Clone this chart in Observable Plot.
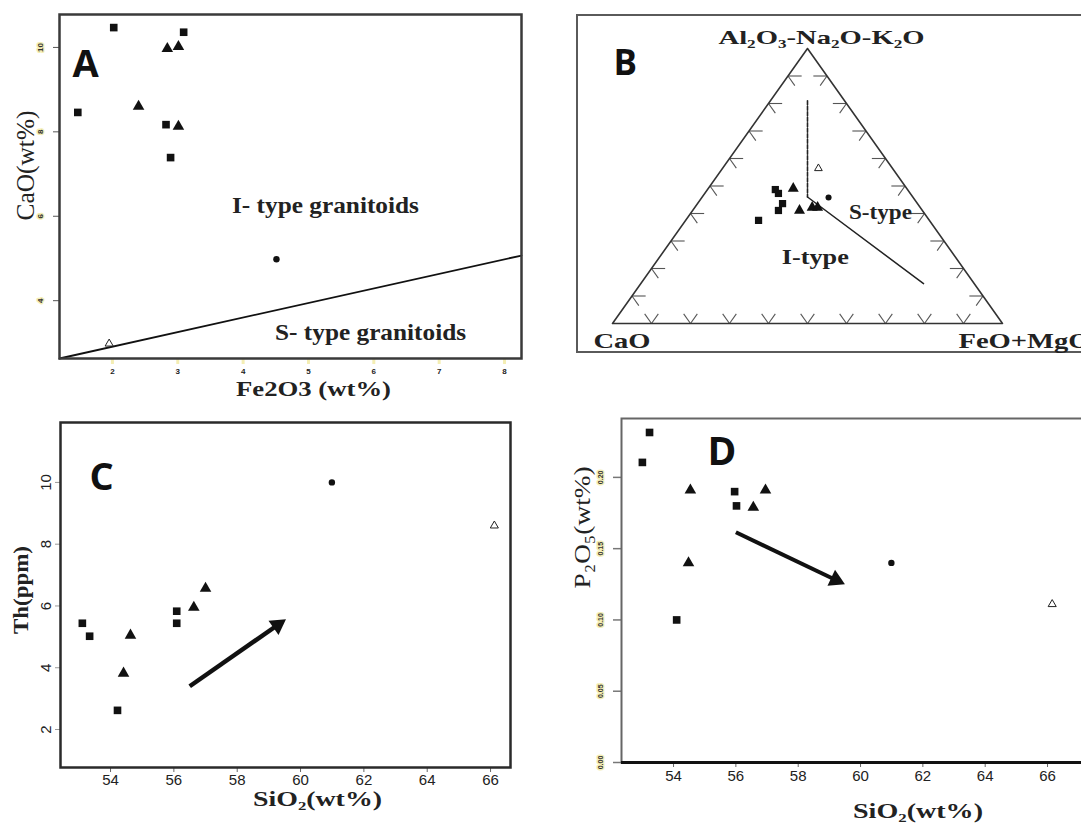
<!DOCTYPE html>
<html><head><meta charset="utf-8">
<script src="https://cdn.jsdelivr.net/npm/d3@7"></script>
<script src="https://cdn.jsdelivr.net/npm/@observablehq/plot@0.6"></script>
<style>
html,body{margin:0;padding:0;background:#fff;width:1081px;height:828px;overflow:hidden;}
#wrap{position:relative;width:1081px;height:828px;overflow:hidden;background:#fff;}
.panel{position:absolute;}
.panel svg{display:block;overflow:visible;max-width:none !important;}
#frameB{position:absolute;left:576px;top:14px;width:620px;height:339px;border:2px solid #5a5a5a;box-sizing:border-box;}
</style></head><body><div id="wrap">
<div id="frameB"></div>
<div id="pA" class="panel" style="left:0;top:0;width:530px"></div>
<div id="pB" class="panel" style="left:576px;top:14px;width:520px"></div>
<div id="pC" class="panel" style="left:0;top:400px;width:530px"></div>
<div id="pD" class="panel" style="left:540px;top:400px;width:560px"></div>
</div>
<script>
const SERIF = "Liberation Serif, Times New Roman, serif";
const SANS = "Liberation Sans, Arial, sans-serif";
const LETTER = "Open Sans, Liberation Sans, sans-serif";

// ---------- Panel A : CaO vs Fe2O3 ----------
const aFe2O3 = [2.02, 3.09, 1.47, 2.82, 2.89, 2.84, 3.01, 2.40, 3.01, 4.51, 1.95];
const aCaO   = [10.47, 10.36, 8.46, 8.17, 7.39, 9.97, 10.02, 8.60, 8.13, 4.98, 2.98];
const aGroup = ["G1","G1","G1","G1","G1","G2","G2","G2","G2","G3","G4"];
const aLineFe2O3 = [1.19, 8.26];
const aLineCaO = [2.63, 5.07];
const aXTicks = [2, 3, 4, 5, 6, 7, 8];
const aYTicks = [4, 6, 8, 10];
const aRegionLabel = ["I- type granitoids", "S- type granitoids"];
const aRegionFe2O3 = [5.26, 5.95];
const aRegionCaO = [6.26, 3.25];

// ---------- Panel B : ternary ----------
const bAl  = [48.7, 47.3, 43.6, 41.1, 37.5, 49.1, 41.1, 42.2, 42.2, 45.8, 56.4];
const bCa  = [33.9, 33.8, 34.6, 36.9, 43.8, 29.1, 31.5, 27.7, 26.3, 21.7, 19.0];
const bFM  = [17.4, 18.9, 21.8, 22.0, 18.7, 21.8, 27.4, 30.1, 31.5, 32.5, 24.6];
const bGroup = ["G1","G1","G1","G1","G1","G2","G2","G2","G2","G3","G4"];
const bVertexAl = [0, 0, 100, 0];
const bVertexCa = [100, 0, 0, 100];
const bVertexFM = [0, 100, 0, 0];
const bDashAl = [81, 46], bDashCa = [9.5, 27], bDashFM = [9.5, 27];
const bLineAl = [46, 14.5], bLineCa = [27, 13], bLineFM = [27, 72.5];
const bTickValues = [10, 20, 30, 40, 50, 60, 70, 80, 90];
const bApexLabel = "Al\u2082O\u2083-Na\u2082O-K\u2082O";
const bLeftLabel = "CaO";
const bRightLabel = "FeO+MgO";
const bRegionLabel = ["S-type", "I-type"];
const bRegionAl = [40.4, 24];
const bRegionCa = [11.1, 36];
const bRegionFM = [48.5, 40];

// ---------- Panel C : Th vs SiO2 ----------
const cSiO2 = [53.11, 53.34, 54.22, 56.09, 56.09, 54.63, 54.41, 56.63, 57.0, 60.99, 66.12];
const cTh   = [5.44, 5.02, 2.62, 5.83, 5.44, 5.05, 3.82, 5.95, 6.57, 10.0, 8.6];
const cGroup = ["G1","G1","G1","G1","G1","G2","G2","G2","G2","G3","G4"];
const cArrowSiO2 = [56.5, 59.54];
const cArrowTh = [3.4, 5.57];
const cXTicks = [54, 56, 58, 60, 62, 64, 66];
const cYTicks = [2, 4, 6, 8, 10];

// ---------- Panel D : P2O5 vs SiO2 ----------
const dSiO2 = [53.23, 53.0, 54.1, 55.96, 56.02, 54.54, 54.48, 56.56, 56.95, 60.99, 66.15];
const dP2O5 = [0.2315, 0.2105, 0.100, 0.190, 0.180, 0.191, 0.140, 0.179, 0.191, 0.140, 0.111];
const dGroup = ["G1","G1","G1","G1","G1","G2","G2","G2","G2","G3","G4"];
const dArrowSiO2 = [56.0, 59.5];
const dArrowP2O5 = [0.1615, 0.125];
const dXTicks = [54, 56, 58, 60, 62, 64, 66];
const dYTicks = [0.00, 0.05, 0.10, 0.15, 0.20];

// ---------- helpers ----------
function rowsOf(xs, ys, gs) { return xs.map((x, i) => ({x, y: ys[i], g: gs[i]})); }
function dotMarks(rows, s = 1) {
  return [
    Plot.dot(rows.filter(d => d.g === "G1"), {x: "x", y: "y", symbol: "square", r: 4.3 * s, fill: "#111"}),
    Plot.dot(rows.filter(d => d.g === "G2"), {x: "x", y: "y", symbol: "triangle", r: 4.3 * s, fill: "#111"}),
    Plot.dot(rows.filter(d => d.g === "G3"), {x: "x", y: "y", symbol: "circle", r: 3.2 * s, fill: "#111"}),
    Plot.dot(rows.filter(d => d.g === "G4"), {x: "x", y: "y", symbol: "triangle", r: 3 * s, fill: "#fff", stroke: "#222", strokeWidth: 1})
  ];
}
// arrow: thick shaft + filled triangular head, oriented with the plot's own scales
function arrowMarks(xs, ys, xDomain, yDomain, xRange, yRange, sw, r) {
  const sx = Plot.scale({x: {domain: xDomain, range: xRange}});
  const sy = Plot.scale({y: {domain: yDomain, range: yRange}});
  const p1 = [sx.apply(xs[0]), sy.apply(ys[0])], p2 = [sx.apply(xs[1]), sy.apply(ys[1])];
  const len = Math.hypot(p2[0] - p1[0], p2[1] - p1[1]);
  const ux = (p2[0] - p1[0]) / len, uy = (p2[1] - p1[1]) / len;
  const k = Math.sqrt(Math.PI * r * r / (3 * Math.sqrt(3)));   // centroid-to-base distance of d3 triangle
  const shaftEnd = {x: sx.invert(p2[0] - ux * 2 * k), y: sy.invert(p2[1] - uy * 2 * k)};
  const shaft = [{x1: xs[0], y1: ys[0], x2: shaftEnd.x, y2: shaftEnd.y}];
  const head = [{x: xs[1], y: ys[1]}];
  const angle = Math.atan2(ux, -uy) * 180 / Math.PI;
  return [
    Plot.link(shaft, {x1: "x1", y1: "y1", x2: "x2", y2: "y2", stroke: "#111", strokeWidth: sw}),
    Plot.dot(head, {x: "x", y: "y", symbol: "triangle", r, fill: "#111", rotate: angle, dx: -ux * 2 * k, dy: -uy * 2 * k})
  ];
}
function stretch(svg, lengths) {
  svg.querySelectorAll("text").forEach(t => {
    const L = lengths[t.textContent];
    if (L) { t.setAttribute("textLength", L); t.setAttribute("lengthAdjust", "spacingAndGlyphs"); }
  });
}
const tern = (al, ca, fm) => { const s = al + ca + fm; return {x: (fm + al / 2) / s, y: al / s}; };
const halo = {stroke: "#f4eeb4", strokeWidth: 3, paintOrder: "stroke"};

// ---------- Panel A ----------
{
  const rows = rowsOf(aFe2O3, aCaO, aGroup);
  const line = aLineFe2O3.map((x, i) => ({x, y: aLineCaO[i]}));
  const regions = aRegionLabel.map((t, i) => ({t, x: aRegionFe2O3[i], y: aRegionCaO[i]}));
  const svg = Plot.plot({
    width: 530, height: 400, marginLeft: 59, marginTop: 14, marginRight: 9, marginBottom: 42,
    x: {domain: [1.19, 8.26]}, y: {domain: [2.63, 10.78]},
    style: {background: "transparent", color: "#222", fontFamily: SANS, maxWidth: "none"},
    marks: [
      Plot.axisX({ticks: aXTicks, tickSize: 6, tickPadding: 4, fontSize: 8, fontWeight: "bold", label: null, stroke: "#333", strokeWidth: 1.5, tickFormat: d => String(d), ...halo}),
      Plot.axisY({ticks: aYTicks, tickSize: 6, tickFormat: () => "", label: null, stroke: "#555"}),
      Plot.text(aYTicks, {y: d => d, text: d => String(d), frameAnchor: "left", dx: -19, rotate: -90, textAnchor: "middle", fontSize: 8, fontWeight: "bold", fill: "#333", ...halo}),
      Plot.line(line, {x: "x", y: "y", stroke: "#111", strokeWidth: 1.8}),
      ...dotMarks(rows),
      Plot.text(regions, {x: "x", y: "y", text: "t", fontFamily: SERIF, fontWeight: "bold", fontSize: 23, fill: "#222"}),
      Plot.text(["A"], {frameAnchor: "top-left", dx: 13, dy: 36, lineAnchor: "top", textAnchor: "start", fontFamily: LETTER, fontWeight: "bold", fontSize: 38, fill: "#111"}),
      Plot.text(["CaO(wt%)"], {frameAnchor: "left", dx: -34, dy: -21, rotate: -90, textAnchor: "middle", fontFamily: SERIF, fontSize: 25, fill: "#222"}),
      Plot.text(["Fe2O3 (wt%)"], {frameAnchor: "bottom", dx: 23, dy: 37, fontFamily: SERIF, fontWeight: "bold", fontSize: 20, fill: "#222"}),
      Plot.frame({stroke: "#3a3a3a", strokeWidth: 2.5})
    ]
  });
  stretch(svg, {"I- type granitoids": 187, "S- type granitoids": 191, "Fe2O3 (wt%)": 155, "CaO(wt%)": 110});
  document.getElementById("pA").appendChild(svg);
}

// ---------- Panel B ----------
{
  const pts = bAl.map((a, i) => ({...tern(a, bCa[i], bFM[i]), g: bGroup[i]}));
  const outline = bVertexAl.map((a, i) => tern(a, bVertexCa[i], bVertexFM[i]));
  const dash = bDashAl.map((a, i) => tern(a, bDashCa[i], bDashFM[i]));
  const sline = bLineAl.map((a, i) => tern(a, bLineCa[i], bLineFM[i]));
  const dd = 3.5;
  const segs = [];
  for (const t of bTickValues) {
    let p = [t, 100 - t, 0];
    segs.push([p, [t, 100 - t - dd, dd]], [p, [t - dd, 100 - t, dd]]);
    p = [t, 0, 100 - t];
    segs.push([p, [t, dd, 100 - t - dd]], [p, [t - dd, dd, 100 - t]]);
    p = [0, 100 - t, t];
    segs.push([p, [dd, 100 - t - dd, t]], [p, [dd, 100 - t, t - dd]]);
  }
  const links = segs.map(([p, q]) => { const a = tern(...p), b = tern(...q); return {x1: a.x, y1: a.y, x2: b.x, y2: b.y}; });
  const apex = tern(100, 0, 0), cv = tern(0, 100, 0), fv = tern(0, 0, 100);
  const regions = bRegionLabel.map((t, i) => ({t, ...tern(bRegionAl[i], bRegionCa[i], bRegionFM[i])}));
  const svg = Plot.plot({
    width: 520, height: 339, marginLeft: 36, marginTop: 34, marginRight: 94, marginBottom: 30,
    x: {domain: [0, 1], axis: null}, y: {domain: [0, 1], axis: null},
    style: {background: "transparent", fontFamily: SERIF, maxWidth: "none"},
    marks: [
      Plot.link(links, {x1: "x1", y1: "y1", x2: "x2", y2: "y2", stroke: "#555", strokeWidth: 1.1}),
      Plot.line(outline, {x: "x", y: "y", stroke: "#333", strokeWidth: 1.6}),
      Plot.line(dash, {x: "x", y: "y", stroke: "#222", strokeWidth: 1.6, strokeDasharray: "4,1.5"}),
      Plot.line(sline, {x: "x", y: "y", stroke: "#222", strokeWidth: 1.5}),
      ...dotMarks(pts, 0.95),
      Plot.text(regions, {x: "x", y: "y", text: "t", fontWeight: "bold", fontSize: 20, fill: "#222"}),
      Plot.text([bApexLabel], {x: () => apex.x, y: () => apex.y, dx: 14, dy: -5, lineAnchor: "bottom", fontWeight: "bold", fontSize: 19, fill: "#222"}),
      Plot.text([bLeftLabel], {x: () => cv.x, y: () => cv.y, dx: -19, dy: 18, textAnchor: "start", fontWeight: "bold", fontSize: 21, fill: "#222"}),
      Plot.text([bRightLabel], {x: () => fv.x, y: () => fv.y, dx: -44, dy: 18, textAnchor: "start", fontWeight: "bold", fontSize: 21, fill: "#222"}),
      Plot.text(["B"], {frameAnchor: "top-left", dx: 1, dy: 2, lineAnchor: "top", textAnchor: "start", fontFamily: LETTER, fontWeight: "bold", fontSize: 35, fill: "#111"})
    ]
  });
  stretch(svg, {[bApexLabel]: 206, "CaO": 57, "FeO+MgO": 132, "S-type": 63, "I-type": 67});
  document.getElementById("pB").appendChild(svg);
}

// ---------- Panel C ----------
{
  const rows = rowsOf(cSiO2, cTh, cGroup);
  const xDom = [52.42, 66.63], yDom = [0.77, 11.94];
  const svg = Plot.plot({
    width: 530, height: 428, marginLeft: 60, marginTop: 22, marginRight: 20, marginBottom: 61,
    x: {domain: xDom}, y: {domain: yDom},
    style: {background: "transparent", color: "#222", fontFamily: SANS, maxWidth: "none"},
    marks: [
      Plot.axisX({ticks: cXTicks, tickSize: 5, tickPadding: 2, fontSize: 15, label: null, stroke: "#666"}),
      Plot.axisY({ticks: cYTicks, tickSize: 5, tickFormat: () => "", label: null, stroke: "#999"}),
      Plot.text(cYTicks, {y: d => d, text: d => String(d), frameAnchor: "left", dx: -14, rotate: -90, textAnchor: "middle", fontSize: 15, fill: "#222"}),
      ...arrowMarks(cArrowSiO2, cArrowTh, xDom, yDom, [60, 510], [367, 22], 4.5, 6.5),
      ...dotMarks(rows),
      Plot.text(["C"], {frameAnchor: "top-left", dx: 29, dy: 41, lineAnchor: "top", textAnchor: "start", fontFamily: LETTER, fontWeight: "bold", fontSize: 38, fill: "#111"}),
      Plot.text(["Th(ppm)"], {frameAnchor: "left", dx: -40, dy: -5, rotate: -90, textAnchor: "middle", fontFamily: SERIF, fontWeight: "bold", fontSize: 22, fill: "#222"}),
      Plot.text(["SiO\u2082(wt%)"], {frameAnchor: "bottom", dx: 32, dy: 38, fontFamily: SERIF, fontWeight: "bold", fontSize: 21, fill: "#222"}),
      Plot.frame({stroke: "#2a2a2a", strokeWidth: 2.5})
    ]
  });
  stretch(svg, {"Th(ppm)": 88, "SiO\u2082(wt%)": 129});
  document.getElementById("pC").appendChild(svg);
}

// ---------- Panel D ----------
{
  const rows = rowsOf(dSiO2, dP2O5, dGroup);
  const xDom = [52.33, 67.70], yDom = [0, 0.2413];
  const svg = Plot.plot({
    width: 560, height: 428, marginLeft: 81, marginTop: 18, marginRight: 0, marginBottom: 66,
    x: {domain: xDom}, y: {domain: yDom},
    style: {background: "transparent", color: "#222", fontFamily: SANS, maxWidth: "none"},
    marks: [
      Plot.axisX({ticks: dXTicks, tickSize: 5, tickPadding: 3, fontSize: 15, label: null, stroke: "#666"}),
      Plot.axisY({ticks: dYTicks, tickSize: 8, tickFormat: () => "", label: null, stroke: "#777", strokeWidth: 1.5}),
      Plot.text(dYTicks, {y: d => d, text: d => d.toFixed(2), frameAnchor: "left", dx: -21, rotate: -90, textAnchor: "middle", fontSize: 7, fontWeight: "bold", fill: "#333", ...halo}),
      Plot.frame({stroke: "#666", strokeWidth: 2}),
      Plot.ruleY([0], {stroke: "#111", strokeWidth: 3}),
      ...arrowMarks(dArrowSiO2, dArrowP2O5, xDom, yDom, [81, 560], [362, 18], 4, 6.5),
      ...dotMarks(rows),
      Plot.text(["D"], {frameAnchor: "top-left", dx: 86, dy: 19, lineAnchor: "top", textAnchor: "start", fontFamily: LETTER, fontWeight: "bold", fontSize: 39, fill: "#111"}),
      Plot.text(["P\u2082O\u2085(wt%)"], {frameAnchor: "left", dx: -39, dy: -63, rotate: -90, textAnchor: "middle", fontFamily: SERIF, fontSize: 24, fill: "#222"}),
      Plot.text(["SiO\u2082(wt%)"], {frameAnchor: "bottom", dx: 57, dy: 55, fontFamily: SERIF, fontWeight: "bold", fontSize: 21, fill: "#222"})
    ]
  });
  stretch(svg, {"P\u2082O\u2085(wt%)": 122, "SiO\u2082(wt%)": 130});
  document.getElementById("pD").appendChild(svg);
}
</script></body></html>
